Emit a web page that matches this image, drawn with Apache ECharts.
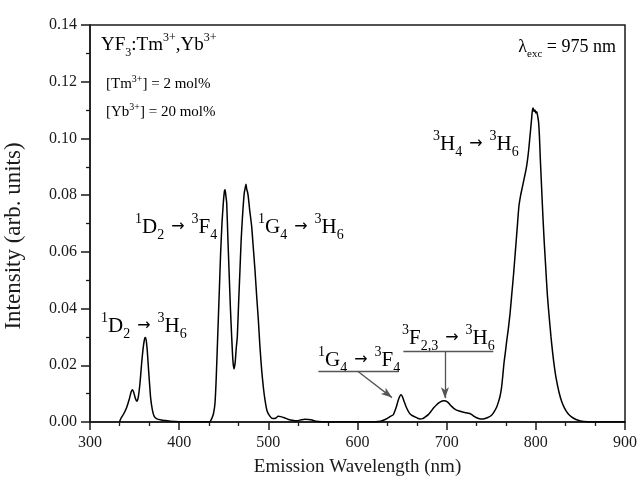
<!DOCTYPE html>
<html>
<head>
<meta charset="utf-8">
<script src="https://cdn.jsdelivr.net/npm/echarts@6/dist/echarts.min.js"></script>
<style>
  html, body { margin: 0; padding: 0; background: #fff; }
  #chart { width: 639px; height: 478px; }
</style>
</head>
<body>
<div id="chart"></div>
<script>
// Upconversion emission spectrum of YF3:Tm3+,Yb3+ under 975 nm excitation
const wavelength = [
  333, 335, 338, 341, 344, 346, 347.5, 349, 351, 352.5, 354, 356, 358, 360, 361.5, 362.5, 364, 366, 368, 370,
  372, 375, 380, 385, 390, 400, 420, 434,
  436.5, 438.5, 440.2, 441.5, 443.2, 445, 446.5, 448, 449.5, 450.8, 451.5, 452.3, 453.3, 454.5, 455.9, 457.5,
  458.9, 460.3, 461.5, 462.8, 464, 465.2, 466.8, 468.2, 469.5, 470.8, 472, 473, 474, 475, 475.8, 476.6, 477.5,
  479, 481.3, 483, 485, 487, 488.8, 490.5, 492.5, 494.5, 496.2, 498.5, 501.9, 505, 508, 511, 514, 518, 522,
  527, 532, 537, 541, 545, 549, 553, 560, 580, 600,
  620, 626, 629, 633, 637, 640, 642, 643.7, 645.5, 647.3, 648.8, 650.3, 652, 655, 658, 661, 664.5, 667.5, 670,
  673, 676, 679.4, 682.5, 685.5, 688.8, 692, 695, 697, 699, 701.5, 703.5, 705.6, 708, 711, 714.9, 718, 721,
  724, 726.5, 729, 731.8, 735, 738, 741, 744, 747, 750, 753, 756, 758, 759.8, 761.5, 763, 764.3, 766, 767.5,
  769, 771, 773, 775, 777, 779, 781, 783, 785, 787, 789, 790.5, 792, 793.5, 795, 796, 797, 798, 799, 800, 801,
  802, 803, 804, 805, 806, 807, 808, 809.5, 811, 813, 815, 817, 819, 821, 823, 826, 829, 832, 836, 840,
  845, 850, 858, 870, 900
];
const intensity = [
  0, 0.0015, 0.003, 0.005, 0.008, 0.0105, 0.0114, 0.0105, 0.0082, 0.0073, 0.0085, 0.0135, 0.021, 0.027, 0.0296, 0.0298, 0.026, 0.017, 0.0085, 0.0042,
  0.002, 0.0011, 0.0007, 0.0005, 0.0003, 0.0001, 0, 0,
  0.0012, 0.003, 0.0067, 0.015, 0.030, 0.046, 0.0596, 0.070, 0.0772, 0.0815, 0.0819, 0.080, 0.0772, 0.066, 0.0537, 0.040,
  0.030, 0.0215, 0.0187, 0.021, 0.026, 0.030, 0.043, 0.0537, 0.064, 0.0713, 0.077, 0.0807, 0.0825, 0.0838, 0.082, 0.0812, 0.0795,
  0.075, 0.069, 0.062, 0.0537, 0.044, 0.036, 0.027, 0.0184, 0.012, 0.0079, 0.004, 0.002, 0.0012, 0.0013, 0.002, 0.0019, 0.0015, 0.001,
  0.0006, 0.0004, 0.0008, 0.001, 0.0009, 0.0007, 0.0003, 0.0001, 0, 0,
  0.0001, 0.0003, 0.0006, 0.0012, 0.002, 0.0025, 0.004, 0.0055, 0.0075, 0.009, 0.0096, 0.009, 0.0075, 0.005, 0.0032, 0.0023, 0.0018, 0.0013, 0.0011,
  0.0012, 0.0018, 0.0026, 0.0038, 0.005, 0.0061, 0.0069, 0.0074, 0.0075, 0.0074, 0.0069, 0.0062, 0.0055, 0.0048, 0.0042, 0.0038, 0.0035, 0.0033,
  0.0031, 0.0029, 0.0024, 0.0018, 0.0013, 0.0011, 0.0011, 0.0013, 0.0017, 0.0023, 0.0035, 0.0052, 0.007, 0.009, 0.012, 0.0165, 0.0208, 0.025, 0.029,
  0.0325, 0.038, 0.045, 0.052, 0.060, 0.068, 0.076, 0.080, 0.083, 0.086, 0.089, 0.092, 0.096, 0.101, 0.106, 0.1095, 0.1107, 0.1095, 0.1100, 0.1090, 0.1094,
  0.1080, 0.1060, 0.1010, 0.0930, 0.0860, 0.0790, 0.0720, 0.0630, 0.0550, 0.0445, 0.0370, 0.0300, 0.0240, 0.0190, 0.0150, 0.0105, 0.0072, 0.0050, 0.0030, 0.0018,
  0.0009, 0.0004, 0.0001, 0, 0
];

// Axis ranges and tick steps
const xRange = [300, 900];
const xStep = 100;
const yRange = [0, 0.14];
const yStep = 0.02;

// Arrow pointers (wavelength, intensity) and the bars under the two small-peak labels
const pointerArrows = [
  { from: [600.6, 0.0178], to: [638.7, 0.0086] },   // 1G4 -> 3F4
  { from: [698.1, 0.0248], to: [698.1, 0.0084] }    // 3F2,3 -> 3H6
];
const labelBars = [
  { from: [556.1, 0.0178], to: [646.0, 0.0178] },
  { from: [651.4, 0.0248], to: [752.3, 0.0248] }
];

const SERIF = '"Liberation Serif", "Times New Roman", serif';
const INK = '#1a1a1a';

// Rich-text styles for labels: main text, superscript, subscript, arrow
function richSet(main, small, lh) {
  return {
    m: { fontFamily: SERIF, fontSize: main, lineHeight: lh, color: INK },
    p: { fontFamily: SERIF, fontSize: small, lineHeight: small, verticalAlign: 'top', color: INK },
    b: { fontFamily: SERIF, fontSize: small, lineHeight: small + 4, verticalAlign: 'bottom', color: INK },
    a: { fontFamily: '"DejaVu Sans", sans-serif', fontSize: Math.round(main * 0.78), lineHeight: lh, color: INK,
         padding: [0, 7, 0, 7] }
  };
}
const bigRich = richSet(21, 14, 30);

const textLabels = [
  { x: 101, y: 32, text: '{m|YF}{b|3}{m|:Tm}{p|3+}{m|,Yb}{p|3+}', rich: richSet(19, 12, 27) },
  { x: 106, y: 74, text: '{m|[Tm}{p|3+}{m|] = 2 mol%}', rich: richSet(15, 10, 21) },
  { x: 106, y: 102, text: '{m|[Yb}{p|3+}{m|] = 20 mol%}', rich: richSet(15, 10, 21) },
  { x: 616, y: 34, align: 'right', text: '{m|\u03bb}{b|exc}{m| = 975 nm}', rich: richSet(18, 11, 26) },
  { x: 135, y: 212, text: '{p|1}{m|D}{b|2}{a|\u2192}{p|3}{m|F}{b|4}', rich: bigRich },
  { x: 258, y: 212, text: '{p|1}{m|G}{b|4}{a|\u2192}{p|3}{m|H}{b|6}', rich: bigRich },
  { x: 101, y: 311, text: '{p|1}{m|D}{b|2}{a|\u2192}{p|3}{m|H}{b|6}', rich: bigRich },
  { x: 433, y: 129, text: '{p|3}{m|H}{b|4}{a|\u2192}{p|3}{m|H}{b|6}', rich: bigRich },
  { x: 318, y: 345, text: '{p|1}{m|G}{b|4}{a|\u2192}{p|3}{m|F}{b|4}', rich: bigRich },
  { x: 402, y: 323, text: '{p|3}{m|F}{b|2,3}{a|\u2192}{p|3}{m|H}{b|6}', rich: bigRich }
];

const chart = echarts.init(document.getElementById('chart'), null, { renderer: 'canvas' });

const points = wavelength.map((w, i) => [w, intensity[i]]);

const guideLines = pointerArrows.map(a => [
  { coord: a.from, symbol: 'none' },
  { coord: a.to, symbol: 'arrow', symbolSize: [6, 11] }
]).concat(labelBars.map(b => [
  { coord: b.from, symbol: 'none' },
  { coord: b.to, symbol: 'none' }
]));

chart.setOption({
  animation: false,
  backgroundColor: '#fff',
  grid: {
    left: 90, right: 14, top: 25, bottom: 56,
    outerBoundsMode: 'none',
    containLabel: false,
    show: true, borderColor: INK, borderWidth: 1.5, backgroundColor: 'transparent'
  },
  xAxis: {
    type: 'value',
    min: xRange[0], max: xRange[1], interval: xStep,
    name: 'Emission Wavelength (nm)',
    nameLocation: 'middle',
    nameGap: 36,
    nameTextStyle: { fontFamily: SERIF, fontSize: 19, color: INK },
    axisLine: { show: true, onZero: false, lineStyle: { color: INK, width: 1.5 } },
    axisTick: { show: true, inside: false, length: 8, lineStyle: { color: INK, width: 1.5 } },
    minorTick: { show: true, splitNumber: 3, length: 4, lineStyle: { color: INK, width: 1.3 } },
    axisLabel: { fontFamily: SERIF, fontSize: 16, color: INK, margin: 13 },
    splitLine: { show: false }
  },
  yAxis: {
    type: 'value',
    min: yRange[0], max: yRange[1], interval: yStep,
    name: 'Intensity (arb. units)',
    nameLocation: 'middle',
    nameGap: 65,
    nameTextStyle: { fontFamily: SERIF, fontSize: 23, color: INK, padding: [0, 25, 0, 0] },
    axisLine: { show: true, lineStyle: { color: INK, width: 1.5 } },
    axisTick: { show: true, inside: false, length: 9, lineStyle: { color: INK, width: 1.5 } },
    minorTick: { show: true, splitNumber: 2, length: 4, lineStyle: { color: INK, width: 1.3 } },
    axisLabel: {
      fontFamily: SERIF, fontSize: 16, color: INK, margin: 13,
      formatter: v => v.toFixed(2)
    },
    splitLine: { show: false }
  },
  series: [{
    type: 'line',
    data: points,
    showSymbol: false,
    smooth: 0.2,
    lineStyle: { color: '#000', width: 1.5 },
    silent: true,
    markLine: {
      silent: true,
      animation: false,
      label: { show: false },
      lineStyle: { color: '#555', width: 1.3, type: 'solid' },
      emphasis: { disabled: true },
      data: guideLines
    }
  }]
});

chart.setOption({
  graphic: textLabels.map(l => ({
    type: 'text',
    x: l.x,
    y: l.y,
    silent: true,
    style: {
      text: l.text,
      rich: l.rich,
      align: l.align || 'left',
      verticalAlign: 'top',
      fontFamily: SERIF
    }
  }))
});
</script>
</body>
</html>
